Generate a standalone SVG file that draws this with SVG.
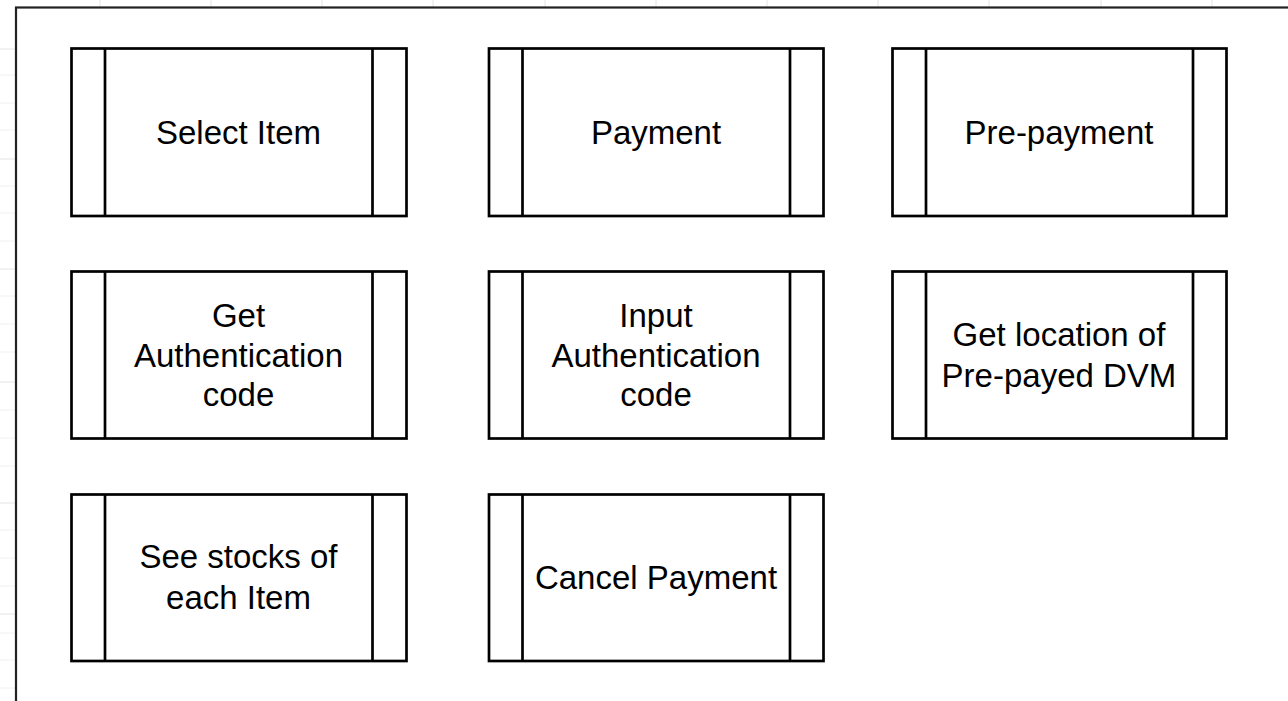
<svg xmlns="http://www.w3.org/2000/svg" width="1288" height="701" viewBox="0 0 1288 701">
<style>
.grid{stroke:#e4e4e4;stroke-width:1;fill:none}
.gridf{stroke:#f0f0f0;stroke-width:1;fill:none}
.box{fill:#fff;stroke:#000;stroke-width:2.7}
.bar{stroke:#000;stroke-width:2.7}
.lbl{font-family:"Liberation Sans",Arial,sans-serif;font-size:33px;fill:#000;text-anchor:middle}
.frame{fill:#fff;stroke:#222;stroke-width:2.2}
</style>
<rect width="1288" height="701" fill="#fff"/>
<g id="grid">
<path class="grid" d="M100 0V7M211 0V7M322 0V7M433 0V7M545 0V7M656 0V7M767 0V7M878 0V7M989 0V7M1101 0V7M1212 0V7"/>
<path class="grid" d="M0 49H16M0 159H16M0 269H16M0 382H16M0 503H16M0 614H16"/>
<path class="gridf" d="M0 75H16M0 103H16M0 130H16M0 186H16M0 213H16M0 241H16M0 296H16M0 324H16M0 352H16M0 410H16M0 438H16M0 466H16M0 530H16M0 558H16M0 586H16M0 633H16M0 660H16M0 688H16"/>
</g>
<rect id="frame" class="frame" x="16" y="7.5" width="1290" height="720"/>
<g id="n1"><rect class="box" x="71.5" y="48.5" width="335" height="167.5"/><path class="bar" d="M105 48.5V216M372.5 48.5V216"/><text class="lbl" x="238.5" y="144">Select Item</text></g>
<g id="n2"><rect class="box" x="489" y="48.5" width="334.5" height="167.5"/><path class="bar" d="M522.5 48.5V216M790 48.5V216"/><text class="lbl" x="656" y="144">Payment</text></g>
<g id="n3"><rect class="box" x="892.5" y="48.5" width="334" height="167.5"/><path class="bar" d="M926 48.5V216M1193 48.5V216"/><text class="lbl" x="1059" y="144">Pre-payment</text></g>
<g id="n4"><rect class="box" x="71.5" y="271.5" width="335" height="167"/><path class="bar" d="M105 271.5V438.5M372.5 271.5V438.5"/><text class="lbl" x="238.5" y="327">Get</text><text class="lbl" x="238.5" y="367">Authentication</text><text class="lbl" x="238.5" y="406">code</text></g>
<g id="n5"><rect class="box" x="489" y="271.5" width="334.5" height="167"/><path class="bar" d="M522.5 271.5V438.5M790 271.5V438.5"/><text class="lbl" x="656" y="327">Input</text><text class="lbl" x="656" y="367">Authentication</text><text class="lbl" x="656" y="406">code</text></g>
<g id="n6"><rect class="box" x="892.5" y="271.5" width="334" height="167"/><path class="bar" d="M926 271.5V438.5M1193 271.5V438.5"/><text class="lbl" x="1059" y="346">Get location of</text><text class="lbl" x="1059" y="387">Pre-payed DVM</text></g>
<g id="n7"><rect class="box" x="71.5" y="494.5" width="335" height="166.5"/><path class="bar" d="M105 494.5V661M372.5 494.5V661"/><text class="lbl" x="238.5" y="568">See stocks of</text><text class="lbl" x="238.5" y="609">each Item</text></g>
<g id="n8"><rect class="box" x="489" y="494.5" width="334.5" height="166.5"/><path class="bar" d="M522.5 494.5V661M790 494.5V661"/><text class="lbl" x="656" y="589">Cancel Payment</text></g>
<g id="connectors"></g>
</svg>
